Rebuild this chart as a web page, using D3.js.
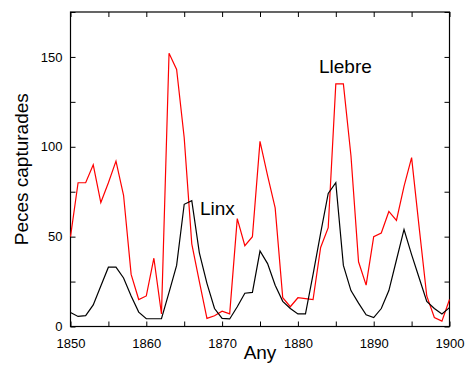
<!DOCTYPE html>
<html>
<head>
<meta charset="utf-8">
<script src="https://cdn.jsdelivr.net/npm/d3@7"></script>
<style>
  body { margin: 0; background: #fff; }
  svg { display: block; font-family: "Liberation Sans", Arial, sans-serif; }
</style>
</head>
<body>
<svg width="466" height="368"></svg>
<script>
const width = 466, height = 368;

// data (thousands caught per year)
const years = d3.range(1850, 1901);
const hare = [50, 80, 80, 90, 69, 80, 92, 73, 29, 15,
              17, 38, 7, 152, 143, 105, 46, 25, 4.5, 6,
              8.5, 7, 60, 45, 50, 103, 84, 66, 16, 11,
              16, 15.5, 15, 44, 55, 135, 135, 95, 36, 23,
              50, 52, 64, 59, 78, 94, 55, 17, 5, 3,
              15];
const lynx = [7.8, 5.6, 6, 12, 22.5, 33, 33, 27, 17, 8,
              4.3, 4.3, 4.3, 19, 34, 68, 70, 41, 24, 10,
              4.5, 4.2, 11, 18.5, 19, 42, 35, 23, 14, 10,
              7, 7, 29, 52, 74, 80, 34, 20, 13, 6.5,
              5, 10, 20, 37, 54, 40, 27, 14, 10, 7,
              10.5];
const xLabels = [1850, 1860, 1870, 1880, 1890, 1900];
const yLabels = [0, 50, 100, 150];

// plot box (window.top is taken, hence the prefix)
const pLeft = 70.5, pRight = 449.5, pTop = 12, pBottom = 326.5;

const x = d3.scaleLinear().domain([1850, 1900]).range([pLeft, pRight]);
const y = d3.scaleLinear().domain([0, 175]).range([pBottom, pTop]);

const svg = d3.select("svg");

// inward ticks on all four sides, labels only bottom / left
const tickLen = 5;
const xTicks = d3.range(1850, 1901, 5);
const yTicks = d3.range(0, 176, 25);

svg.append("g")
    .attr("transform", `translate(0,${pBottom})`)
    .call(d3.axisBottom(x).tickValues(xTicks).tickSizeInner(-tickLen).tickSizeOuter(0)
        .tickFormat(d => xLabels.includes(d) ? d : ""))
    .call(g => g.select(".domain").remove())
    .call(g => g.selectAll("text").attr("y", 12).attr("font-size", 13).attr("fill", "#000")
        .attr("font-family", "Liberation Sans, Arial, sans-serif"));

svg.append("g")
    .attr("transform", `translate(0,${pTop})`)
    .call(d3.axisTop(x).tickValues(xTicks).tickSizeInner(-tickLen).tickSizeOuter(0).tickFormat(""))
    .call(g => g.select(".domain").remove());

svg.append("g")
    .attr("transform", `translate(${pLeft},0)`)
    .call(d3.axisLeft(y).tickValues(yTicks).tickSizeInner(-tickLen).tickSizeOuter(0)
        .tickFormat(d => yLabels.includes(d) ? d : ""))
    .call(g => g.select(".domain").remove())
    .call(g => g.selectAll("text").attr("x", -8).attr("font-size", 13).attr("fill", "#000")
        .attr("font-family", "Liberation Sans, Arial, sans-serif"));

svg.append("g")
    .attr("transform", `translate(${pRight},0)`)
    .call(d3.axisRight(y).tickValues(yTicks).tickSizeInner(-tickLen).tickSizeOuter(0).tickFormat(""))
    .call(g => g.select(".domain").remove());

// frame
svg.append("rect")
    .attr("x", pLeft).attr("y", pTop)
    .attr("width", pRight - pLeft).attr("height", pBottom - pTop)
    .attr("fill", "none").attr("stroke", "#000").attr("stroke-width", 1.2);

const line = d3.line().x((d, i) => x(years[i])).y(d => y(d));

svg.append("path").datum(hare)
    .attr("d", line).attr("fill", "none")
    .attr("stroke", "#ff0000").attr("stroke-width", 1.2);

svg.append("path").datum(lynx)
    .attr("d", line).attr("fill", "none")
    .attr("stroke", "#000").attr("stroke-width", 1.2);

// series labels
svg.append("text").attr("x", 319).attr("y", 73).attr("font-size", 19).text("Llebre");
svg.append("text").attr("x", 200).attr("y", 215).attr("font-size", 19).text("Linx");

// axis titles
svg.append("text")
    .attr("x", (pLeft + pRight) / 2).attr("y", 359)
    .attr("text-anchor", "middle").attr("font-size", 19).text("Any");

svg.append("text")
    .attr("transform", `translate(28,${(pTop + pBottom) / 2}) rotate(-90)`)
    .attr("text-anchor", "middle").attr("font-size", 19).text("Peces capturades");
</script>
</body>
</html>
